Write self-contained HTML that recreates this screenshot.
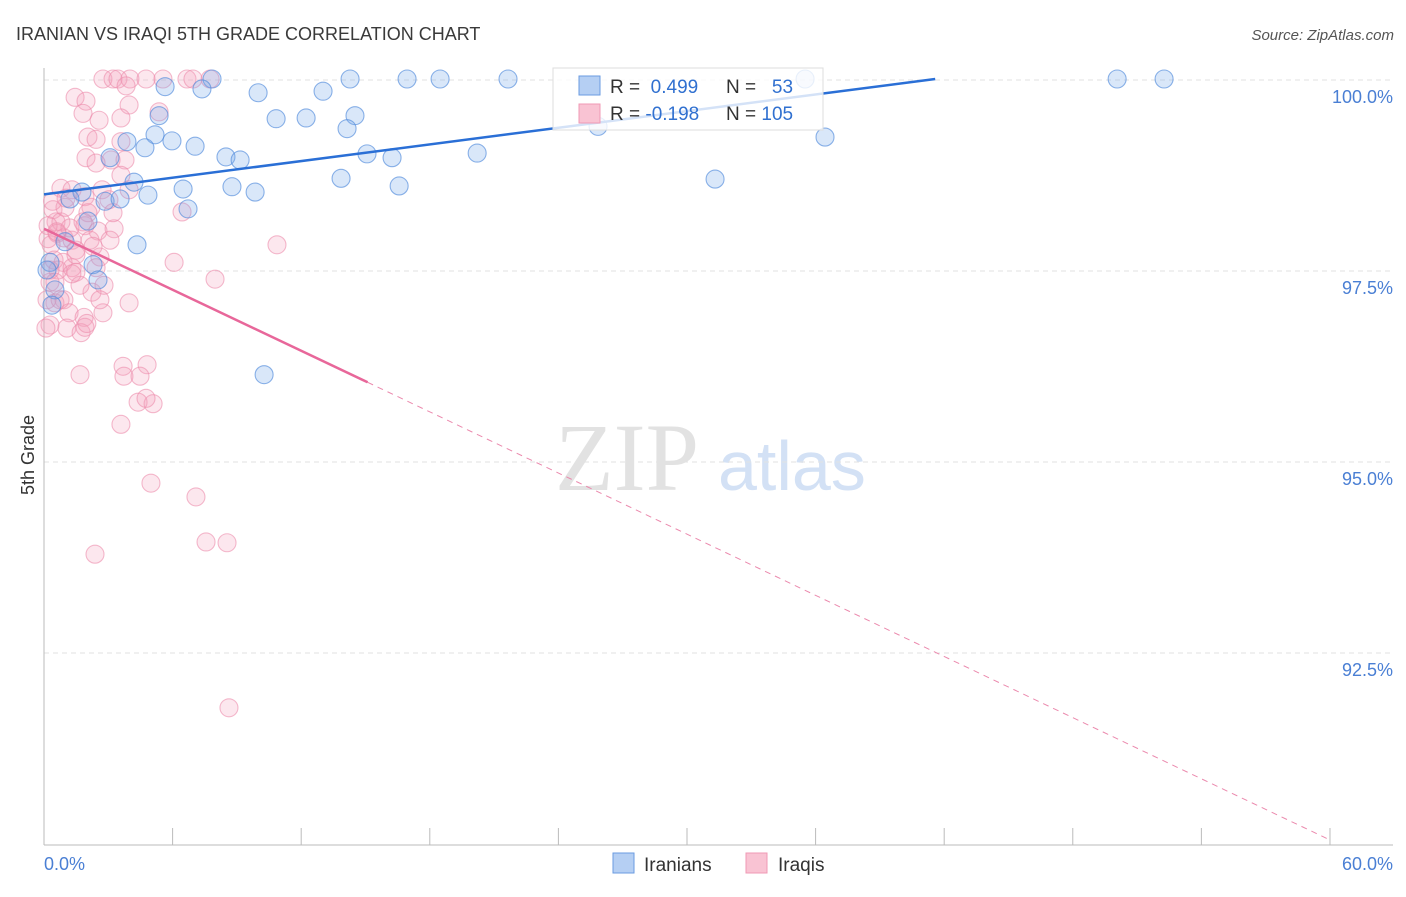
<!DOCTYPE html>
<html><head><meta charset="utf-8"><style>
body{margin:0;background:#fff;font-family:"Liberation Sans",sans-serif}
svg text{font-family:"Liberation Sans",sans-serif}
</style></head><body>
<svg id="c" width="1406" height="892">
<text x="16" y="40" font-size="18" fill="#3a3a3a">IRANIAN VS IRAQI 5TH GRADE CORRELATION CHART</text>
<text x="1394" y="40" font-size="15" fill="#555" text-anchor="end" font-style="italic">Source: ZipAtlas.com</text>
<text x="555" y="490" font-size="96" fill="#e2e2e2" style="font-family:'Liberation Serif',serif">ZIP</text>
<text x="718" y="490" font-size="70" fill="#d3e1f5">atlas</text>
<text transform="translate(34,455) rotate(-90)" font-size="18" fill="#333" text-anchor="middle">5th Grade</text>
<g id="grid"></g><g id="pts"></g><g id="lines"></g>
<g>
<rect x="553" y="68" width="270" height="62" fill="#fff" fill-opacity="0.8" stroke="#ddd"/>
<rect x="579" y="76" width="21" height="19" fill="#b5cff3" stroke="#6a9be0"/>
<rect x="579" y="104" width="21" height="19" fill="#f9c3d3" stroke="#f09ab5"/>
<text x="610" y="93" font-size="19" fill="#333">R = <tspan fill="#3070d0">&#160;0.499</tspan></text>
<text x="726" y="93" font-size="19" fill="#333">N = <tspan fill="#3070d0">&#160;&#160;53</tspan></text>
<text x="610" y="120" font-size="19" fill="#333">R = <tspan fill="#3070d0">-0.198</tspan></text>
<text x="726" y="120" font-size="19" fill="#333">N = <tspan fill="#3070d0">105</tspan></text>
</g>
<g>
<rect x="613" y="853" width="21" height="20" fill="#b5cff3" stroke="#6a9be0"/>
<text x="644" y="871" font-size="19" fill="#333">Iranians</text>
<rect x="746" y="853" width="21" height="20" fill="#f9c3d3" stroke="#f09ab5"/>
<text x="778" y="871" font-size="19" fill="#333">Iraqis</text>
</g>
</svg>
<script>
const yTicks=[100,97.5,95,92.5];
const yTickLabels=["100.0%","97.5%","95.0%","92.5%"];
const xTickLabels=["0.0%","60.0%"];
const blueX=[7.84,14.28,16.94,18.48,21.65,35.51,50.07,52.26,5.65,7.37,9.99,13.02,5.37,10.83,12.23,14.51,14.14,25.85,36.44,3.87,5.18,5.97,7.05,4.71,8.49,9.15,15.07,16.24,20.21,3.08,4.2,6.49,8.77,9.85,13.86,16.57,31.31,1.77,1.21,2.85,3.55,4.85,6.72,2.05,4.34,0.98,0.28,2.29,2.52,0.51,0.37,10.27,0.14];
const blueY=[100,100,100,100,100,100,100,100,99.9,99.87,99.82,99.84,99.52,99.48,99.49,99.52,99.35,99.38,99.24,99.18,99.27,99.19,99.12,99.1,98.98,98.94,99.02,98.97,99.03,98.97,98.65,98.56,98.59,98.52,98.7,98.6,98.69,98.52,98.43,98.4,98.43,98.48,98.3,98.14,97.83,97.87,97.6,97.57,97.37,97.24,97.04,96.13,97.5];
const pinkX=[2.75,3.22,3.45,4.01,4.76,5.55,6.67,6.95,7.75,3.83,1.45,1.96,1.82,3.97,2.57,3.59,2.05,2.43,3.59,1.96,3.13,3.78,2.43,3.59,0.79,1.31,1.91,2.71,3.03,0.42,0.56,0.79,1.91,2.52,3.27,0.61,0.93,1.31,2.15,0.33,1.49,2.29,0.47,0.89,2.61,0.65,1.31,1.49,2.43,0.28,0.93,0.51,2.24,2.8,3.97,1.17,1.87,2.75,0.28,1.07,1.73,1.91,1.68,3.69,4.81,3.73,4.48,4.39,5.09,4.76,3.59,4.99,7.09,2.38,7.56,8.54,8.63,6.44,6.07,7.98,10.87,5.37,3.97,2.19,1.21,0.19,0.19,0.14,0.09,0.28,0.98,1.68,0.75,1.49,2.61,3.08,2.05,0.51,1.03,3.22,1.82,0.6,1.3,2.0,0.4];
const pinkY=[100,100,100,100,100,100,100,100,100,99.91,99.76,99.71,99.55,99.66,99.46,99.49,99.24,99.21,99.18,98.97,98.94,98.94,98.9,98.74,98.57,98.55,98.46,98.55,98.42,98.29,98.13,98.13,98.08,98.01,98.04,97.98,97.92,97.89,97.89,97.83,97.76,97.81,97.63,97.6,97.67,97.5,97.53,97.47,97.53,97.34,97.11,97.07,97.21,97.3,97.07,96.94,96.88,96.94,96.78,96.74,96.68,96.75,96.13,96.24,96.26,96.11,96.11,95.77,95.75,95.82,95.48,94.71,94.53,93.78,93.94,93.93,91.77,98.26,97.6,97.38,97.83,99.57,98.55,98.32,98.05,98.08,97.91,97.11,96.74,97.5,98.32,97.3,97.11,97.7,97.11,97.89,98.25,97.34,98.44,98.25,98.13,98.0,97.45,96.8,98.4];
const blueLine=[[0,98.49],[41.58,100]];
const pinkLine=[[0,98.04],[15.1,96.03],[60,90.04]];
const X=v=>44+v*21.433, Y=v=>79+(100-v)*76.4;
const NS="http://www.w3.org/2000/svg";
function mk(t,a,p){const e=document.createElementNS(NS,t);for(const k in a)e.setAttribute(k,a[k]);p.appendChild(e);return e;}
const g=document.getElementById('grid');
yTicks.forEach((t,i)=>{
 const l=mk('line',{x1:44,x2:1393,y1:Y(t)+1,y2:Y(t)+1,stroke:'#e2e2e2','stroke-dasharray':'5,4'},g);
 
 
 const tx=mk('text',{x:1393,y:Y(t)+24,'font-size':18,fill:'#4a7fd4','text-anchor':'end'},g);
 tx.textContent=yTickLabels[i];
 
 
});
let ax=mk('line',{x1:44,x2:44,y1:68,y2:845,stroke:'#bbb'},g);


ax=mk('line',{x1:44,x2:1393,y1:845,y2:845,stroke:'#bbb'},g);


for(let i=0;i<=10;i++){const t=mk('line',{x1:X(i*6),x2:X(i*6),y1:828,y2:845,stroke:'#bbb'},g);
 
 }
[[0,'start',44],[60,'end',1393]].forEach((d,i)=>{const t=mk('text',{x:d[2],y:870,'font-size':18,fill:'#4a7fd4','text-anchor':d[1]},g);t.textContent=xTickLabels[i];
 
 });
const p=document.getElementById('pts');
pinkX.forEach((v,i)=>{const c=mk('circle',{cx:X(v),cy:Y(pinkY[i]),r:9,fill:'rgba(245,160,188,0.25)',stroke:'rgba(236,140,172,0.6)','stroke-width':1.1},p);
 
 });
blueX.forEach((v,i)=>{const c=mk('circle',{cx:X(v),cy:Y(blueY[i]),r:9,fill:'rgba(120,168,232,0.28)',stroke:'rgba(80,138,220,0.65)','stroke-width':1.1},p);
 
 });
const L=document.getElementById('lines');
let e=mk('line',{x1:X(blueLine[0][0]),y1:Y(blueLine[0][1]),x2:X(blueLine[1][0]),y2:Y(blueLine[1][1]),stroke:'#2a6fd6','stroke-width':2.5},L);


e=mk('line',{x1:X(pinkLine[0][0]),y1:Y(pinkLine[0][1]),x2:X(pinkLine[1][0]),y2:Y(pinkLine[1][1]),stroke:'#e8679a','stroke-width':2.5},L);


e=mk('line',{x1:X(pinkLine[1][0]),y1:Y(pinkLine[1][1]),x2:X(pinkLine[2][0]),y2:Y(pinkLine[2][1]),stroke:'#eb89ad','stroke-width':1,'stroke-dasharray':'6,5'},L);


</script>
</body></html>
